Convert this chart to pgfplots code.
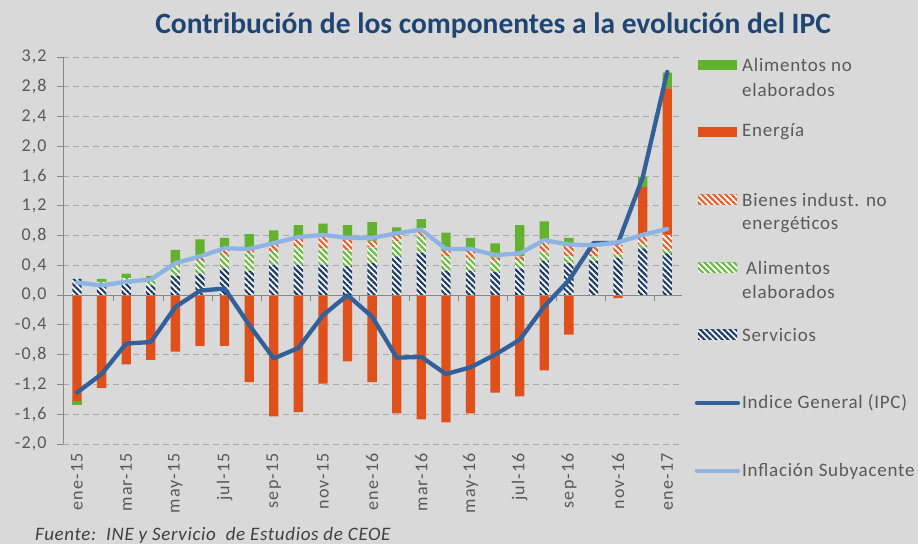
\documentclass[border=0pt]{standalone}
\usepackage{pgfplots}
\pgfplotsset{compat=1.18}
\usepackage{pgfplotstable}
\usepackage{fontspec}
\setmainfont{Carlito}
\newfontfamily\tickfont[LetterSpace=6]{Carlito}
\newfontfamily\legfont[LetterSpace=4]{Carlito}
\newfontfamily\srcfont[LetterSpace=3.4]{Carlito}
\usetikzlibrary{patterns.meta}

\definecolor{bg}{HTML}{D9D9D9}
\definecolor{gr}{HTML}{63B22F}
\definecolor{orng}{HTML}{E0501A}
\definecolor{navyh}{HTML}{1F3C6B}
\definecolor{grh}{HTML}{6DBB45}
\definecolor{orh}{HTML}{E5602A}
\definecolor{ipc}{HTML}{34609A}
\definecolor{subc}{HTML}{8EB4E3}
\definecolor{ttl}{HTML}{1F4573}
\definecolor{txt}{HTML}{595959}
\definecolor{axc}{HTML}{878787}
\definecolor{grd}{HTML}{A9A9A9}

\tikzset{
  hS/.style={draw=none, fill=white, postaction={pattern color=navyh, pattern={Lines[angle=-45,distance=4.2pt,line width=2.2pt]}}},
  hAE/.style={draw=none, fill=white, postaction={pattern color=grh, pattern={Lines[angle=-45,distance=4.2pt,line width=2.2pt]}}},
  hBI/.style={draw=none, fill=white, postaction={pattern color=orh, pattern={Lines[angle=-45,distance=4.2pt,line width=2.2pt]}}},
}

\pgfplotstableread{
x  S    AE    BI    Ep    ANEp  En    ANEn  IPC   SUB
0  0.22 0.00  0.00  0     0.00  -1.42 -0.05 -1.31 0.17
1  0.17 0.01  0.00  0     0.04  -1.25 0     -1.06 0.13
2  0.20 0.03  0.00  0     0.06  -0.93 0     -0.65 0.18
3  0.13 0.08  0.00  0     0.05  -0.87 0     -0.63 0.21
4  0.26 0.13  0.01  0     0.21  -0.76 0     -0.16 0.43
5  0.29 0.17  0.07  0     0.22  -0.68 0     0.06  0.52
6  0.36 0.19  0.06  0     0.16  -0.68 0     0.09  0.63
7  0.33 0.23  0.08  0     0.18  -1.17 0     -0.40 0.62
8  0.41 0.18  0.11  0     0.17  -1.63 0     -0.85 0.70
9  0.41 0.25  0.12  0     0.16  -1.57 0     -0.71 0.78
10 0.41 0.22  0.18  0     0.15  -1.19 0     -0.27 0.81
11 0.39 0.21  0.19  0     0.15  -0.89 0     0.00  0.77
12 0.43 0.21  0.09  0     0.25  -1.17 0     -0.29 0.77
13 0.52 0.20  0.13  0     0.06  -1.59 0     -0.84 0.83
14 0.57 0.22  0.11  0     0.12  -1.67 0     -0.83 0.88
15 0.33 0.19  0.07  0     0.25  -1.71 0     -1.06 0.62
16 0.33 0.17  0.09  0     0.18  -1.59 0     -0.97 0.62
17 0.31 0.15  0.045 0     0.19  -1.31 0     -0.80 0.54
18 0.36 0.11  0.05  0     0.42  -1.36 0     -0.60 0.56
19 0.46 0.11  0.18  0     0.24  -1.01 0     -0.15 0.74
20 0.43 0.09  0.18  0     0.07  -0.53 0     0.20  0.68
21 0.46 0.06  0.14  0     0.00  0     0     0.70  0.67
22 0.50 0.045 0.13  0     0.00  -0.04 0     0.70  0.71
23 0.63 0.05  0.11  0.66  0.14  0     0     1.58  0.81
24 0.56 0.05  0.20  1.97  0.21  0     0     3.00  0.89
}\data

\pgfplotsset{
  common/.style={
    at={(63pt,100pt)}, anchor=south west, scale only axis,
    width=619pt, height=387pt,
    xmin=-0.57, xmax=24.6, ymin=-2, ymax=3.2,
  }
}

\begin{document}
\begin{tikzpicture}
\useasboundingbox (0,0) rectangle (918pt,544pt);
\fill[bg] (0,0) rectangle (918pt,544pt);

% Axis A: grid, labels, negative bars
\begin{axis}[common,
  axis x line*=bottom, axis y line*=left,
  x axis line style={draw=none},
  y axis line style={draw=axc, line width=1pt},
  axis line style={-},
  ytick={-2,-1.6,-1.2,-0.8,-0.4,0,0.4,0.8,1.2,1.6,2,2.4,2.8,3.2},
  yticklabels={{-2,0},{-1,6},{-1,2},{-0,8},{-0,4},{0,0},{0,4},{0,8},{1,2},{1,6},{2,0},{2,4},{2,8},{3,2}},
  ytick style={draw=axc, line width=1pt},
  tick align=outside, major tick length=6pt,
  xtick={0,2,...,24},
  xticklabels={ene-15,mar-15,may-15,jul-15,sep-15,nov-15,ene-16,mar-16,may-16,jul-16,sep-16,nov-16,ene-17},
  xtick style={draw=none},
  xticklabel style={rotate=90, anchor=east, font=\tickfont\fontsize{18}{18}\selectfont, text=txt},
  yticklabel style={font=\tickfont\fontsize{18}{18}\selectfont, text=txt, xshift=-7pt},
  ymajorgrids, grid style={draw=grd, line width=0.9pt, dash pattern=on 6pt off 4pt},
  ybar stacked, bar width=9.3pt,
]
\addplot[draw=none, fill=orng] table[x=x,y=En]{\data};
\addplot[draw=none, fill=gr] table[x=x,y=ANEn]{\data};
\end{axis}

% Axis B: positive stacked bars + zero line
\begin{axis}[common,
  axis x line=middle, axis y line=none,
  x axis line style={draw=axc, line width=1pt, -},
  xtick={1.5,3.5,...,23.5}, xticklabels={},
  xtick style={draw=axc, line width=1pt},
  xtick align=outside, major tick length=6pt,
  ytick=\empty,
  ybar stacked, bar width=9.3pt,
]
\addplot[hS] table[x=x,y=S]{\data};
\addplot[hAE] table[x=x,y=AE]{\data};
\addplot[hBI] table[x=x,y=BI]{\data};
\addplot[draw=none, fill=orng] table[x=x,y=Ep]{\data};
\addplot[draw=none, fill=gr] table[x=x,y=ANEp]{\data};
\end{axis}

% Axis C: lines
\begin{axis}[common, axis lines=none, ticks=none]
\addplot[ipc, line width=4.3pt, line join=round, line cap=round, mark=none] table[x=x,y=IPC]{\data};
\addplot[subc, line width=4.3pt, line join=round, line cap=round, mark=none] table[x=x,y=SUB]{\data};
\end{axis}

% Title
\node[font=\fontsize{29.5}{32}\selectfont\bfseries, text=ttl] at (493pt,519pt) {Contribución de los componentes a la evolución del IPC};

% Legend
\begin{scope}[every node/.style={anchor=west, font=\legfont\fontsize{19}{19}\selectfont, text=txt, inner sep=0pt}]
\fill[gr] (698pt,474pt) rectangle (737pt,484pt);
\node at (742pt,479pt) {Alimentos no};
\node at (742pt,454pt) {elaborados};
\fill[orng] (698pt,407pt) rectangle (737pt,417pt);
\node at (742pt,412pt) {Energía};
\path[hBI] (698pt,339pt) rectangle (737pt,349pt);
\node at (742pt,344pt) {Bienes indust. no};
\node at (742pt,319pt) {energéticos};
\path[hAE] (698pt,271pt) rectangle (737pt,281pt);
\node at (746pt,276pt) {Alimentos};
\node at (742pt,252pt) {elaborados};
\path[hS] (698pt,204pt) rectangle (737pt,214pt);
\node at (742pt,209pt) {Servicios};
\draw[ipc, line width=4.3pt, line cap=round] (697pt,141pt) -- (738pt,141pt);
\node at (742pt,141pt) {Indice General (IPC)};
\draw[subc, line width=4.3pt, line cap=round] (697pt,73pt) -- (738pt,73pt);
\node at (742pt,73pt) {Inflación Subyacente};
\end{scope}

% Source
\node[anchor=base west, font=\srcfont\fontsize{19}{19}\selectfont\itshape, text=black!75, inner sep=0pt] at (35pt,4pt) {Fuente:\ \ INE y Servicio\ \ de Estudios de CEOE};
\end{tikzpicture}
\end{document}
